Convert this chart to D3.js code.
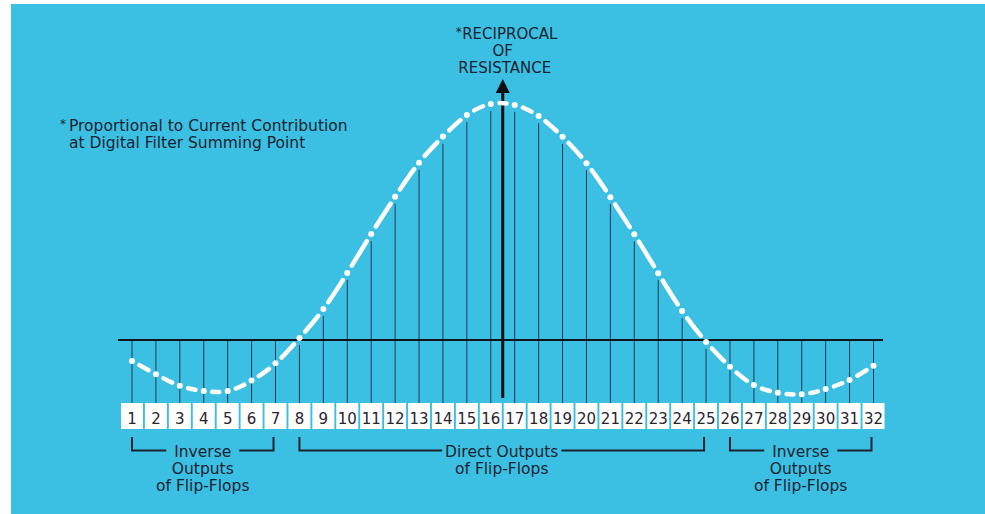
<!DOCTYPE html>
<html>
<head>
<meta charset="utf-8">
<script src="https://cdn.jsdelivr.net/npm/d3@7"></script>
<style>
  html, body { margin: 0; padding: 0; background: #fff; }
  svg { display: block; font-family: "DejaVu Sans", sans-serif; }
</style>
</head>
<body>
<div id="chart"></div>
<script>
const width = 985;
const height = 514;

// flip-flop outputs, numbered as in the boxes
const outputs = [1, 2, 3, 4, 5, 6, 7, 8, 9, 10, 11, 12, 13, 14, 15, 16,
                 17, 18, 19, 20, 21, 22, 23, 24, 25, 26, 27, 28, 29, 30, 31, 32];
// reciprocal of resistance (relative, peak = 1)
const conductance = [-0.089, -0.145, -0.194, -0.216, -0.216, -0.172, -0.099, 0.008,
                     0.131, 0.284, 0.449, 0.607, 0.751, 0.862, 0.953, 1.000,
                     0.996, 0.949, 0.861, 0.749, 0.605, 0.448, 0.283, 0.123,
                     -0.008, -0.113, -0.191, -0.223, -0.230, -0.208, -0.169, -0.109];
// which outputs are taken inverted
const groupNames = ["inverse", "direct", "inverse"];
const groupFrom = [1, 8, 26];
const groupTo = [7, 25, 32];
const groupLabels = [["Inverse", "Outputs", "of Flip-Flops"],
                     ["Direct Outputs", "of Flip-Flops"],
                     ["Inverse", "Outputs", "of Flip-Flops"]];

const ink = "#1b2430";
const boxTop = 403;

const svg = d3.select("#chart").append("svg")
  .attr("width", width)
  .attr("height", height);

svg.append("rect")
  .attr("x", 11).attr("y", 4)
  .attr("width", width - 11).attr("height", height - 4)
  .attr("fill", "#3bbfe3");

const x = d3.scaleLinear().domain([1, 32]).range([132, 873.5]);
const y = d3.scaleLinear().domain([0, 1]).range([340, 104]);

function isInverse(d) {
  const g = groupFrom.findIndex((f, i) => d >= f && d <= groupTo[i]);
  return groupNames[g] === "inverse";
}

// thin resistor lines up from each box
svg.append("g").selectAll("line")
  .data(outputs)
  .join("line")
  .attr("x1", d => x(d))
  .attr("x2", d => x(d))
  .attr("y1", boxTop)
  .attr("y2", (d, i) => isInverse(d) ? y(0) : y(conductance[i]) + 7)
  .attr("stroke", "#1f3a52")
  .attr("stroke-width", 1);

// zero line
svg.append("line")
  .attr("x1", x(1) - 14).attr("x2", x(32) + 9.5)
  .attr("y1", y(0)).attr("y2", y(0))
  .attr("stroke", "#10161c")
  .attr("stroke-width", 2);

// centre axis with arrow
const axisX = x(16.5);
svg.append("line")
  .attr("x1", axisX).attr("x2", axisX)
  .attr("y1", 398).attr("y2", 92)
  .attr("stroke", "#0c0f12")
  .attr("stroke-width", 3);
svg.append("path")
  .attr("d", `M${axisX},79 L${axisX + 7},93 L${axisX - 7},93 Z`)
  .attr("fill", "#0c0f12");

// dash-dot curve: one dash between neighbouring samples, a dot on each
const pts = outputs.map((d, i) => [x(d), y(conductance[i])]);
const curve = svg.append("path")
  .attr("d", d3.line().curve(d3.curveNatural)(pts))
  .attr("fill", "none")
  .attr("stroke", "#fff")
  .attr("stroke-width", 4.5)
  .attr("stroke-linecap", "round");

const node = curve.node();
const total = node.getTotalLength();
const lens = [0];
let k = 1;
for (let l = 0; l <= total && k < pts.length; l += 0.25) {
  if (node.getPointAtLength(l).x >= pts[k][0]) { lens.push(l); k++; }
}
while (lens.length < pts.length) lens.push(total);
const gap = 8.5;
const dash = [0, gap];
for (let i = 1; i < lens.length; i++) {
  const seg = lens[i] - lens[i - 1];
  dash.push(Math.max(seg - 2 * gap, 0.01), i === lens.length - 1 ? gap : 2 * gap);
}
curve.attr("stroke-dasharray", dash.join(" "));

svg.append("g").selectAll("circle")
  .data(pts)
  .join("circle")
  .attr("cx", d => d[0])
  .attr("cy", d => d[1])
  .attr("r", 3)
  .attr("fill", "#fff");

// numbered boxes
const boxes = svg.append("g").selectAll("g")
  .data(outputs)
  .join("g")
  .attr("transform", d => `translate(${x(d)},${boxTop})`);
boxes.append("rect")
  .attr("x", -11).attr("width", 22).attr("height", 26)
  .attr("fill", "#fff");
boxes.append("text")
  .attr("y", 21)
  .attr("text-anchor", "middle")
  .attr("font-size", 15)
  .attr("fill", "#2a2430")
  .text(d => d);

// brackets with labels
groupNames.forEach((name, gi) => {
  const x0 = x(groupFrom[gi]), x1 = x(groupTo[gi]) - 2;
  const cx = (x0 + x1) / 2;
  const g = svg.append("g");
  const lines = groupLabels[gi];
  lines.forEach((t, li) => {
    g.append("text")
      .attr("x", cx)
      .attr("y", 457 + li * 17)
      .attr("text-anchor", "middle")
      .attr("font-size", 15.5)
      .attr("fill", ink)
      .text(t);
  });
  const first = g.select("text").node().getBBox();
  const pad = name === "direct" ? 3 : 8;
  g.append("path")
    .attr("d", `M${x0},437 V450.5 H${first.x - pad} M${first.x + first.width + pad},450.5 H${x1} V437`)
    .attr("fill", "none")
    .attr("stroke", ink)
    .attr("stroke-width", 2);
});

// titles
svg.append("text")
  .attr("x", axisX + 7).attr("y", 39)
  .attr("text-anchor", "middle")
  .attr("font-size", 15).attr("fill", ink)
  .text("RECIPROCAL");
svg.append("text")
  .attr("x", axisX - 41).attr("y", 36)
  .attr("text-anchor", "end")
  .attr("font-size", 12).attr("fill", ink)
  .text("*");
svg.append("text")
  .attr("x", axisX).attr("y", 56)
  .attr("text-anchor", "middle")
  .attr("font-size", 15).attr("fill", ink)
  .text("OF");
svg.append("text")
  .attr("x", axisX + 2).attr("y", 73)
  .attr("text-anchor", "middle")
  .attr("font-size", 15).attr("fill", ink)
  .text("RESISTANCE");

svg.append("text")
  .attr("x", 60).attr("y", 128)
  .attr("font-size", 12).attr("fill", ink)
  .text("*");
svg.append("text")
  .attr("x", 69).attr("y", 131)
  .attr("font-size", 15.5).attr("fill", ink)
  .text("Proportional to Current Contribution");
svg.append("text")
  .attr("x", 69).attr("y", 147.5)
  .attr("font-size", 15.5).attr("fill", ink)
  .text("at Digital Filter Summing Point");
</script>
</body>
</html>
